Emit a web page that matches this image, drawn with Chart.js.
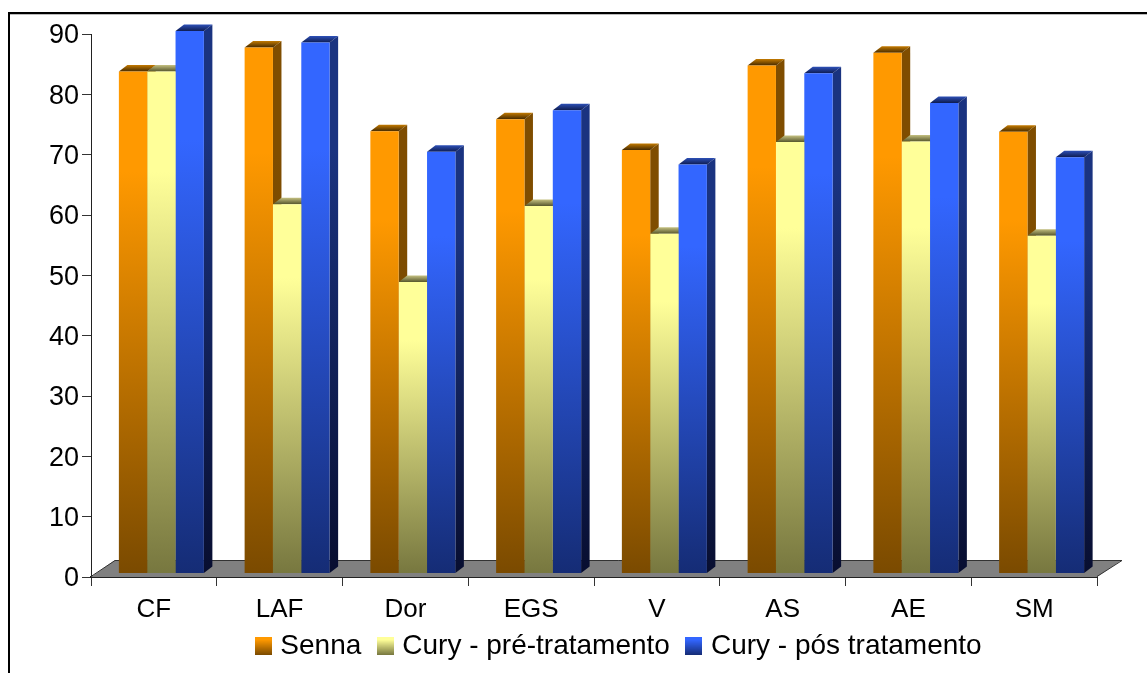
<!DOCTYPE html>
<html>
<head>
<meta charset="utf-8">
<title>Senna / Cury</title>
<script src="https://cdn.jsdelivr.net/npm/chart.js@4"></script>
<style>
  html, body { margin: 0; padding: 0; background: #fff; overflow: hidden; }
  canvas { display: block; }
</style>
</head>
<body>
<canvas id="grafico" width="1147" height="673"></canvas>
<script>
const categories = ['CF', 'LAF', 'Dor', 'EGS', 'V', 'AS', 'AE', 'SM']
const seriesNames = ['Senna', 'Cury - pré-tratamento', 'Cury - pós tratamento']
const senna = [83.2, 87.2, 73.3, 75.3, 70.2, 84.2, 86.3, 73.2]
const curyPre = [83.2, 61.2, 48.3, 60.9, 56.3, 71.5, 71.6, 56]
const curyPos = [89.9, 88, 69.9, 76.8, 67.8, 82.9, 78, 69]
const yTicks = [0, 10, 20, 30, 40, 50, 60, 70, 80, 90]

// colours per series, in the same order as seriesNames
const frontTop = ['#ff9900', '#ffff99', '#3366ff']
const frontBottom = ['#7a4a00', '#77773f', '#152c75']
const sideTop = ['#7f4d00', '#7f7f4c', '#1a3380']
const sideBottom = ['#6f4300', '#3b3b20', '#080e30']
const capBack = ['#c47a00', '#c4c080', '#2d50b8']
const capFront = ['#452a00', '#55552c', '#0e1c50']

// bars sit a little behind the axis plane
const shiftX = 7.5
const shiftY = -3.5
const depthX = 8.5
const depthY = 6.5

function frontColor(i) {
  return (c) => {
    if (c.parsed === undefined) return frontTop[i]
    const y = c.chart.scales.y
    const g = c.chart.ctx.createLinearGradient(0, y.getPixelForValue(c.parsed.y), 0, y.getPixelForValue(0))
    g.addColorStop(0, frontTop[i])
    g.addColorStop(0.2, frontTop[i])
    g.addColorStop(1, frontBottom[i])
    return g
  }
}

function legendBox(i) {
  const box = document.createElement('canvas')
  box.width = 17
  box.height = 18
  const c = box.getContext('2d')
  const g = c.createLinearGradient(0, 0, 0, 18)
  g.addColorStop(0, frontTop[i])
  g.addColorStop(0.15, frontTop[i])
  g.addColorStop(1, frontBottom[i])
  c.fillStyle = g
  c.fillRect(0, 0, 17, 18)
  return box
}

function polygon(ctx, pts, fill) {
  ctx.fillStyle = fill
  ctx.beginPath()
  pts.forEach((p, n) => n ? ctx.lineTo(p[0], p[1]) : ctx.moveTo(p[0], p[1]))
  ctx.closePath()
  ctx.fill()
}

const pseudo3d = {
  id: 'pseudo3d',
  beforeDraw(chart) {
    // outer frame runs off the right and bottom of the page
    const ctx = chart.ctx
    ctx.fillStyle = '#000'
    ctx.fillRect(8, 12, 1139, 2)
    ctx.fillRect(8, 12, 2, 661)
    ctx.fillStyle = '#bbb'
    ctx.fillRect(10, 14, 1137, 1)
  },
  afterLayout(chart) {
    const h = chart.legend.height
    chart.legend.left += 72.5
    chart.legend.right += 72.5
    chart.legend.top = 611
    chart.legend.bottom = 611 + h
  },
  beforeDatasetsDraw(chart) {
    const ctx = chart.ctx
    const { left, right, bottom } = chart.chartArea
    // floor
    polygon(ctx, [[left, bottom], [right, bottom], [right + 25, bottom - 17], [left + 24, bottom - 17]], '#808080')
    ctx.strokeStyle = '#333'
    ctx.lineWidth = 1
    ctx.beginPath()
    ctx.moveTo(left, bottom - 0.5)
    ctx.lineTo(left + 24, bottom - 16.5)
    ctx.lineTo(right + 25, bottom - 16.5)
    ctx.lineTo(right, bottom - 0.5)
    ctx.stroke()
    ctx.save()
    ctx.translate(shiftX, shiftY)
    // sides and caps go left to right, the fronts are painted over them afterwards
    seriesNames.forEach((name, i) => {
      chart.getDatasetMeta(i).data.forEach((bar) => {
        const l = bar.x - bar.width / 2
        const r = bar.x + bar.width / 2
        const side = ctx.createLinearGradient(0, bar.y, 0, bar.base)
        side.addColorStop(0, sideTop[i])
        side.addColorStop(0.2, sideTop[i])
        side.addColorStop(1, sideBottom[i])
        polygon(ctx, [[r, bar.y], [r + depthX, bar.y - depthY], [r + depthX, bar.base - depthY], [r, bar.base]], side)
        const cap = ctx.createLinearGradient(0, bar.y - depthY, 0, bar.y)
        cap.addColorStop(0, capBack[i])
        cap.addColorStop(1, capFront[i])
        polygon(ctx, [[l, bar.y], [l + depthX, bar.y - depthY], [r + depthX, bar.y - depthY], [r, bar.y]], cap)
      })
    })
  },
  afterDatasetsDraw(chart) {
    chart.ctx.restore()
  }
}

const fontFamily = '"Liberation Sans", Arial, sans-serif'

const chart = new Chart(document.getElementById('grafico'), {
  type: 'bar',
  data: {
    labels: categories,
    datasets: [senna, curyPre, curyPos].map((values, i) => ({
      label: seriesNames[i],
      data: values,
      backgroundColor: frontColor(i),
      borderWidth: 0,
      clip: false,
      barPercentage: 1,
      categoryPercentage: 0.676
    }))
  },
  options: {
    responsive: false,
    animation: false,
    layout: { padding: { left: 0, right: 50, top: 34, bottom: -23 } },
    plugins: {
      tooltip: { enabled: false },
      legend: {
        position: 'bottom',
        labels: {
          usePointStyle: true,
          boxWidth: 6,
          boxHeight: 18,
          padding: 21,
          color: '#000',
          font: { family: fontFamily, size: 28 },
          generateLabels: () => seriesNames.map((name, i) => ({
            text: name,
            fontColor: '#000',
            pointStyle: legendBox(i),
            datasetIndex: i
          }))
        }
      }
    },
    scales: {
      x: {
        grid: { drawOnChartArea: false, tickLength: 9, color: '#333' },
        border: { color: '#222', width: 2 },
        ticks: { color: '#000', font: { family: fontFamily, size: 26 }, padding: 8, maxRotation: 0 },
        afterFit(s) { s.height = 60 }
      },
      y: {
        min: 0,
        max: 90,
        grid: { drawOnChartArea: false, tickLength: 9, color: '#333' },
        border: { color: '#222', width: 1 },
        afterBuildTicks(s) { s.ticks = yTicks.map((v) => ({ value: v })) },
        ticks: { color: '#000', font: { family: fontFamily, size: 27 }, padding: 3, labelOffset: 2 },
        afterFit(s) { s.width = 91 }
      }
    }
  },
  plugins: [pseudo3d]
})
</script>
</body>
</html>
